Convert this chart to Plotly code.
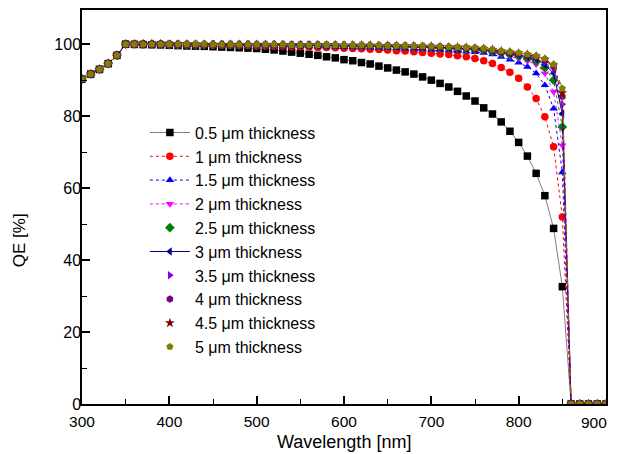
import plotly.graph_objects as go

wavelength = [300, 310, 320, 330, 340, 350, 360, 370, 380, 390,
              400, 410, 420, 430, 440, 450, 460, 470, 480, 490,
              500, 510, 520, 530, 540, 550, 560, 570, 580, 590,
              600, 610, 620, 630, 640, 650, 660, 670, 680, 690,
              700, 710, 720, 730, 740, 750, 760, 770, 780, 790,
              800, 810, 820, 830, 840, 850, 860, 870, 880, 890, 900]

x_tick_values = [300, 400, 500, 600, 700, 800, 900]
x_tick_labels = ["300", "400", "500", "600", "700", "800", "900"]

rise_300_340 = [90.3, 91.7, 93.0, 94.6, 96.9]
tail_860_900 = [0, 0, 0, 0, 0]

qe_0_5 = [100.0, 99.95, 99.9, 99.85, 99.8,
          99.7, 99.6, 99.5, 99.45, 99.4, 99.3, 99.2, 99.1, 99.0, 98.9,
          98.8, 98.6, 98.4, 98.1, 97.8, 97.5, 97.2, 96.9, 96.5, 96.2,
          95.7, 95.4, 94.9, 94.5, 93.9, 93.4, 92.8, 92.3, 91.7, 90.9,
          90.0, 89.1, 88.1, 86.9, 85.6, 84.2, 82.3, 80.6, 78.4, 75.8,
          72.7, 68.9, 64.1, 57.9, 48.8, 32.6]
qe_1_0 = [100.0, 100.0, 99.9, 99.9, 99.9,
          99.9, 99.8, 99.8, 99.8, 99.8, 99.7, 99.7, 99.7, 99.6, 99.6,
          99.5, 99.5, 99.4, 99.4, 99.3, 99.3, 99.2, 99.1, 99.1, 99.0,
          98.9, 98.8, 98.7, 98.6, 98.5, 98.4, 98.2, 98.1, 97.9, 97.7,
          97.5, 97.3, 97.1, 96.8, 96.5, 96.0, 95.4, 94.6, 93.5, 92.2,
          90.5, 88.1, 84.9, 79.8, 71.5, 52.0]
qe_1_5 = [100.0, 100.0, 100.0, 99.9, 99.9,
          99.9, 99.9, 99.9, 99.9, 99.8, 99.8, 99.8, 99.8, 99.8, 99.7,
          99.7, 99.7, 99.6, 99.6, 99.6, 99.5, 99.5, 99.4, 99.4, 99.3,
          99.3, 99.2, 99.2, 99.1, 99.0, 99.0, 98.9, 98.8, 98.7, 98.6,
          98.5, 98.4, 98.3, 98.1, 97.9, 97.8, 97.6, 97.2, 96.5, 95.7,
          94.9, 93.7, 91.9, 88.6, 82.1, 64.4]
qe_2_0 = [100.0, 100.0, 100.0, 100.0, 99.9,
          99.9, 99.9, 99.9, 99.9, 99.9, 99.9, 99.8, 99.8, 99.8, 99.8,
          99.8, 99.8, 99.7, 99.7, 99.7, 99.7, 99.6, 99.6, 99.6, 99.5,
          99.5, 99.5, 99.4, 99.4, 99.3, 99.3, 99.2, 99.2, 99.1, 99.0,
          98.9, 98.8, 98.7, 98.6, 98.4, 98.2, 98.0, 97.7, 97.2, 96.6,
          96.0, 95.3, 94.4, 91.9, 86.8, 71.9]
qe_2_5 = [100.0, 100.0, 100.0, 100.0, 100.0,
          99.9, 99.9, 99.9, 99.9, 99.9, 99.9, 99.9, 99.9, 99.8, 99.8,
          99.8, 99.8, 99.8, 99.8, 99.7, 99.7, 99.7, 99.7, 99.6, 99.6,
          99.6, 99.5, 99.5, 99.5, 99.4, 99.4, 99.3, 99.3, 99.2, 99.2,
          99.1, 99.0, 98.9, 98.8, 98.7, 98.5, 98.3, 98.0, 97.6, 97.1,
          96.7, 96.1, 95.3, 93.5, 90.0, 77.0]
qe_3_0 = [100.0, 100.0, 100.0, 100.0, 100.0,
          100.0, 99.9, 99.9, 99.9, 99.9, 99.9, 99.9, 99.9, 99.9, 99.9,
          99.8, 99.8, 99.8, 99.8, 99.8, 99.8, 99.7, 99.7, 99.7, 99.7,
          99.6, 99.6, 99.6, 99.5, 99.5, 99.5, 99.4, 99.4, 99.3, 99.3,
          99.2, 99.1, 99.0, 98.9, 98.8, 98.7, 98.5, 98.2, 97.8, 97.4,
          97.0, 96.5, 95.8, 94.3, 91.9, 80.7]
qe_3_5 = [100.0, 100.0, 100.0, 100.0, 100.0,
          100.0, 100.0, 99.9, 99.9, 99.9, 99.9, 99.9, 99.9, 99.9, 99.9,
          99.9, 99.8, 99.8, 99.8, 99.8, 99.8, 99.8, 99.8, 99.7, 99.7,
          99.7, 99.7, 99.6, 99.6, 99.6, 99.5, 99.5, 99.4, 99.4, 99.3,
          99.3, 99.2, 99.1, 99.0, 98.9, 98.8, 98.6, 98.3, 97.9, 97.6,
          97.2, 96.8, 96.2, 95.0, 93.0, 83.3]
qe_4_0 = [100.0, 100.0, 100.0, 100.0, 100.0,
          100.0, 100.0, 100.0, 99.9, 99.9, 99.9, 99.9, 99.9, 99.9, 99.9,
          99.9, 99.9, 99.8, 99.8, 99.8, 99.8, 99.8, 99.8, 99.8, 99.7,
          99.7, 99.7, 99.7, 99.6, 99.6, 99.6, 99.5, 99.5, 99.4, 99.4,
          99.3, 99.3, 99.2, 99.1, 99.0, 98.9, 98.7, 98.4, 98.0, 97.7,
          97.4, 97.0, 96.5, 95.5, 93.8, 85.4]
qe_4_5 = [100.0, 100.0, 100.0, 100.0, 100.0,
          100.0, 100.0, 100.0, 100.0, 99.9, 99.9, 99.9, 99.9, 99.9, 99.9,
          99.9, 99.9, 99.9, 99.8, 99.8, 99.8, 99.8, 99.8, 99.8, 99.8,
          99.7, 99.7, 99.7, 99.7, 99.6, 99.6, 99.6, 99.5, 99.5, 99.4,
          99.4, 99.3, 99.2, 99.2, 99.1, 98.9, 98.8, 98.5, 98.1, 97.8,
          97.5, 97.1, 96.7, 95.8, 94.2, 86.5]
qe_5_0 = [100.0, 100.0, 100.0, 100.0, 100.0,
          100.0, 100.0, 100.0, 100.0, 100.0, 99.9, 99.9, 99.9, 99.9, 99.9,
          99.9, 99.9, 99.9, 99.9, 99.8, 99.8, 99.8, 99.8, 99.8, 99.8,
          99.8, 99.7, 99.7, 99.7, 99.7, 99.6, 99.6, 99.6, 99.5, 99.5,
          99.4, 99.4, 99.3, 99.2, 99.1, 99.0, 98.8, 98.5, 98.1, 97.9,
          97.6, 97.2, 96.8, 96.0, 94.4, 87.7]

labels = ["0.5 \u03bcm thickness", "1 \u03bcm thickness", "1.5 \u03bcm thickness",
          "2 \u03bcm thickness", "2.5 \u03bcm thickness", "3 \u03bcm thickness",
          "3.5 \u03bcm thickness", "4 \u03bcm thickness", "4.5 \u03bcm thickness",
          "5 \u03bcm thickness"]
series = [qe_0_5, qe_1_0, qe_1_5, qe_2_0, qe_2_5, qe_3_0, qe_3_5, qe_4_0, qe_4_5, qe_5_0]
colors = ["#000000", "#FF0000", "#0000FF", "#FF00FF", "#008000",
          "#000080", "#8000FF", "#800080", "#800000", "#808000"]
line_colors = ["#808080", "#FF0000", "#0000FF", "#FF00FF", "#008000",
               "#000080", "#8000FF", "#800080", "#800000", "#808000"]
symbols = ["square", "circle", "triangle-up", "triangle-down", "diamond",
           "triangle-left", "triangle-right", "hexagon", "star", "pentagon"]
dashes = ["solid", "dot", "dot", "dot", "dot", "solid", "dot", "dot", "dot", "dash"]
legend_line = [True, True, True, True, False, True, False, False, False, False]

fig = go.Figure()
for i, (lab, vals) in enumerate(zip(labels, series)):
    y = rise_300_340 + vals + tail_860_900
    if legend_line[i]:
        fig.add_trace(go.Scatter(
            x=wavelength, y=y, name=lab, mode="lines+markers",
            line=dict(color=line_colors[i], width=1, dash=dashes[i]),
            marker=dict(symbol=symbols[i], color=colors[i], size=7.5,
                        line=dict(width=0)),
            legendrank=i + 1))
    else:
        fig.add_trace(go.Scatter(
            x=wavelength, y=y, mode="lines", showlegend=False,
            line=dict(color=line_colors[i], width=1, dash=dashes[i]),
            hoverinfo="skip"))
        fig.add_trace(go.Scatter(
            x=wavelength, y=y, name=lab, mode="markers",
            marker=dict(symbol=symbols[i], color=colors[i], size=7.5,
                        line=dict(width=0)),
            legendrank=i + 1))

# the last tick label sits at the right edge; it is drawn as an annotation
# anchored to its right side so that it is not cut off
shown_tick_labels = x_tick_labels[:-1] + [""]

fig.update_layout(
    width=611, height=446,
    margin=dict(l=74, r=13, t=2, b=50, autoexpand=False),
    paper_bgcolor="white", plot_bgcolor="white",
    font=dict(family="Liberation Sans, Arial, sans-serif", color="black"),
    showlegend=True,
    legend=dict(x=0.12, y=0.732, xanchor="left", yanchor="top",
                bgcolor="rgba(0,0,0,0)", font=dict(size=16),
                itemwidth=40, tracegroupgap=0),
    xaxis=dict(range=[300, 900], tickvals=x_tick_values, ticktext=shown_tick_labels,
               showgrid=False, zeroline=False,
               showline=True, linecolor="black", linewidth=1.5, mirror=True,
               ticks="inside", ticklen=8, tickwidth=1.5, tickcolor="black",
               tickfont=dict(size=15.5), ticklabelstandoff=3, automargin=False,
               ticklabeloverflow="allow",
               minor=dict(ticks="inside", ticklen=5, tickvals=[350, 450, 550, 650, 750, 850],
                          tickcolor="black", tickwidth=1)),
    yaxis=dict(range=[0, 109.5], dtick=20, showgrid=False, zeroline=False,
               showline=True, linecolor="black", linewidth=1.5, mirror=True,
               ticks="inside", ticklen=8, tickwidth=1.5, tickcolor="black",
               tickfont=dict(size=16), ticklabelstandoff=-4, automargin=False,
               ticklabeloverflow="allow",
               minor=dict(ticks="inside", ticklen=5, dtick=10, tickcolor="black", tickwidth=1)),
    annotations=[dict(text="QE [%]", xref="paper", yref="paper",
                      x=-0.12, y=0.416, showarrow=False, textangle=-90,
                      font=dict(size=17), xanchor="center", yanchor="middle"),
                 dict(text="Wavelength [nm]", xref="paper", yref="paper",
                      x=0.5, y=-0.066, showarrow=False,
                      font=dict(size=18), xanchor="center", yanchor="top"),
                 dict(text=x_tick_labels[-1], xref="paper", yref="paper",
                      x=1.006, y=-0.047, showarrow=False,
                      font=dict(size=15.5), xanchor="right", yanchor="middle")],
)

fig.write_html("out.html")
